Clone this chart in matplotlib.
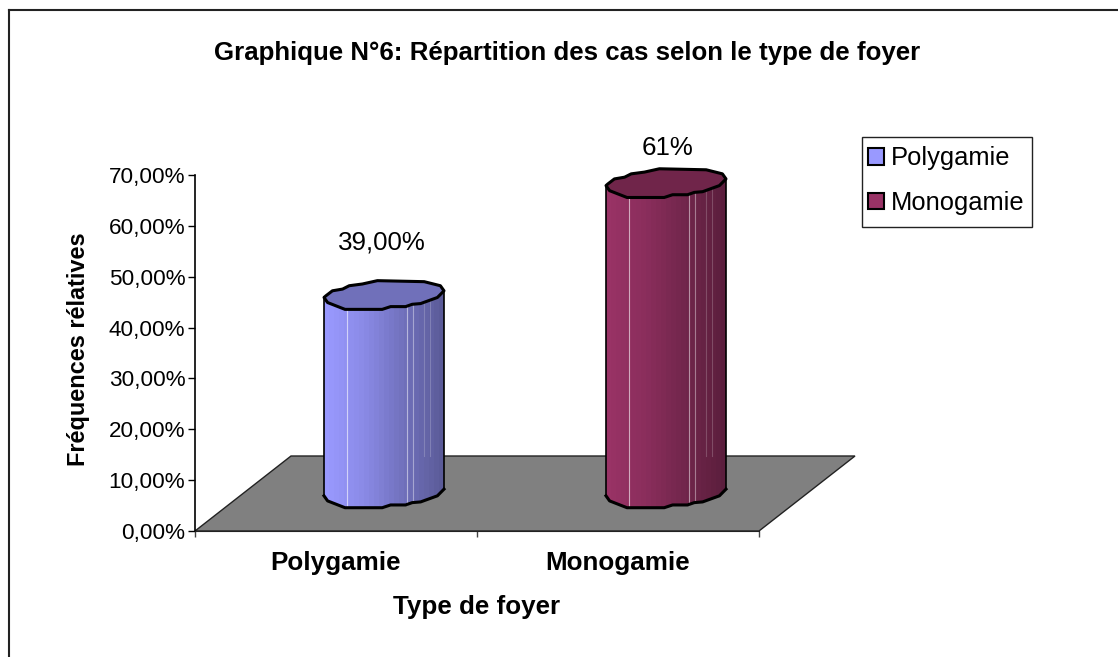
import numpy as np
import matplotlib
matplotlib.use("Agg")
import matplotlib.pyplot as plt
from matplotlib.colors import to_rgb, LinearSegmentedColormap
from matplotlib.lines import Line2D
from matplotlib.patches import Polygon, Rectangle

# ---- data ----
categories = ["Polygamie", "Monogamie"]
values = [0.39, 0.61]
data_labels = ["39,00%", "61%"]
yticks = [0.0, 0.1, 0.2, 0.3, 0.4, 0.5, 0.6, 0.7]
ytick_labels = ["0,00%", "10,00%", "20,00%", "30,00%", "40,00%", "50,00%", "60,00%", "70,00%"]
colors = ["#9999FF", "#993366"]
title = "Graphique N°6: Répartition des cas selon le type de foyer"
xlabel = "Type de foyer"
ylabel = "Fréquences rélatives"

# faceted rim of the cylinder, unit coordinates: lower half, then upper half
RIM_LOWER = [(-1, -0.16), (-0.94, -0.51), (-0.65, -0.98), (-0.03, -0.98), (0.11, -0.79), (0.36, -0.79),
             (0.47, -0.63), (0.61, -0.58), (0.89, -0.16), (1, 0.30)]
RIM_UPPER = [(0.94, 0.65), (0.67, 0.93), (-0.11, 1), (-0.36, 0.77), (-0.58, 0.65), (-0.69, 0.42),
             (-0.86, 0.30), (-0.97, -0.05)]
SEAMS = [(0.19, 0.6, True), (0.69, 0.5, True), (0.74, 0.4, True), (0.83, 0.2, False), (0.88, 0.2, False)]

W, H = 1118, 657
plt.rcParams["font.family"] = ["Liberation Sans", "DejaVu Sans"]
fig = plt.figure(figsize=(W / 100, H / 100), dpi=100, facecolor="white")

def fx(px): return px / W
def fy(py): return 1 - py / H

# frame: only the top and left edges fall inside the picture
fig.add_artist(Line2D([fx(9), fx(9)], [fy(10), 0], transform=fig.transFigure, color="#222222", lw=1.5))
fig.add_artist(Line2D([fx(9), 1], [fy(10), fy(10)], transform=fig.transFigure, color="#222222", lw=1.5))

L, R, T, B = 195, 759, 175, 531
ax = fig.add_axes([fx(L), fy(B), (R - L) / W, (B - T) / H])
ax.patch.set_visible(False)
for s in ("top", "right"):
    ax.spines[s].set_visible(False)
ax.spines["bottom"].set_color("#222222")
ax.spines["left"].set_color("black")
ax.spines["left"].set_linewidth(1.2)
ax.set_yticks(yticks)
ax.set_yticklabels(ytick_labels, fontsize=16.2)
ax.set_xticks([0, 1, 2])
ax.set_xticklabels([])
ax.tick_params(axis="y", length=5, width=1, pad=2)
ax.tick_params(axis="x", length=4.5, width=1, color="#444444")

ppx = 2 / (R - L)          # data x per pixel
ppy = 0.7 / (B - T)        # data y per pixel
dx, dy = 48 * ppx, 37.5 * ppy

# floor
ax.add_patch(Polygon([(0, 0), (2, 0), (2 + 2 * dx, 2 * dy), (2 * dx, 2 * dy)],
                     fc="#808080", ec="#222222", lw=1.0, zorder=1, clip_on=False))

rx, ry = 60 * ppx, 14.5 * ppy
lower = np.array(RIM_LOWER)
upper = np.array(RIM_UPPER)

def shade(c, f):
    return tuple(min(1, x * f) for x in to_rgb(c))

for i, (v, c) in enumerate(zip(values, colors)):
    cx = i + 0.5 + dx
    base, top = dy, dy + v
    lx = cx + rx * lower[:, 0]
    ly = ry * lower[:, 1]
    # body: left-to-right shaded gradient clipped to the cylinder outline
    body = Polygon(np.vstack([np.column_stack([lx, base + ly]),
                              np.column_stack([lx[::-1], top + ly[::-1]])]),
                   closed=True, fc="none", ec="none", transform=ax.transData)
    ax.add_patch(body)
    cmap = LinearSegmentedColormap.from_list("b", [shade(c, 1.0), shade(c, 0.9), shade(c, 0.74), shade(c, 0.6)])
    im = ax.imshow(np.linspace(0, 1, 24).reshape(1, -1), cmap=cmap, aspect="auto", interpolation="nearest",
                   extent=(cx - rx, cx + rx, base - ry, top + ry), zorder=2)
    im.set_clip_path(body)
    # pale facet seams
    for frac, a, full in SEAMS:
        u = 2 * frac - 1
        x = cx + rx * u
        yb = ry * np.interp(u, lower[:, 0], lower[:, 1])
        y0 = base + yb if full else 2 * dy
        ax.plot([x, x], [y0, top + yb], color="white", alpha=a, lw=0.8, zorder=3, clip_on=False)
    # rim and sides
    ax.plot(lx, base + ly, color="black", lw=2.2, zorder=4, solid_joinstyle="round", clip_on=False)
    ax.plot([lx[0], lx[0]], [base + ly[0], top + ly[0]], color="black", lw=1.2, zorder=4, clip_on=False)
    ax.plot([lx[-1], lx[-1]], [base + ly[-1], top + ly[-1]], color="black", lw=1.2, zorder=4, clip_on=False)
    # top cap
    cap = np.vstack([lower, upper])
    ax.add_patch(Polygon(np.column_stack([cx + rx * cap[:, 0], top + ry * cap[:, 1]]), closed=True,
                         fc=shade(c, 0.73), ec="black", lw=2.2, zorder=5, clip_on=False, joinstyle="round"))
    ax.text(cx - 2 * ppx if i == 0 else cx + 1.5 * ppx, top + (53 if i == 0 else 35) * ppy, data_labels[i],
            ha="center", va="center", fontsize=18.6, color="black", clip_on=False)
    ax.text(i + 0.5, -32 * ppy, categories[i], ha="center", va="center", fontsize=18.7,
            fontweight="bold", color="black")

ax.set_xlim(0, 2)
ax.set_ylim(0, 0.7)
ax.spines["left"].set_bounds(0, 0.7)

fig.text(fx(567), fy(53), title, ha="center", va="center", fontsize=18.6, fontweight="bold")
fig.text(fx(477), fy(607), xlabel, ha="center", va="center", fontsize=18.7, fontweight="bold")
fig.text(fx(78), fy(349), ylabel, ha="center", va="center", rotation=90, fontsize=16.9, fontweight="bold")

# legend box and entries
fig.add_artist(Rectangle((fx(862), fy(227)), (1032 - 862) / W, (227 - 137) / H, transform=fig.transFigure,
                         fc="white", ec="#222222", lw=1.0))
leg_handles = [Rectangle((0, 0), 1, 1, fc=c, ec="black", lw=1.5) for c in colors]
leg = fig.legend(leg_handles, categories, loc="upper left", bbox_to_anchor=(fx(868), fy(146.5)),
                 bbox_transform=fig.transFigure, fontsize=18.4, frameon=False,
                 handlelength=0.64, handleheight=0.64,
                 handletextpad=0.24, borderpad=0, labelspacing=0.8, borderaxespad=0)

fig.savefig("out.png", dpi=100, facecolor="white")
